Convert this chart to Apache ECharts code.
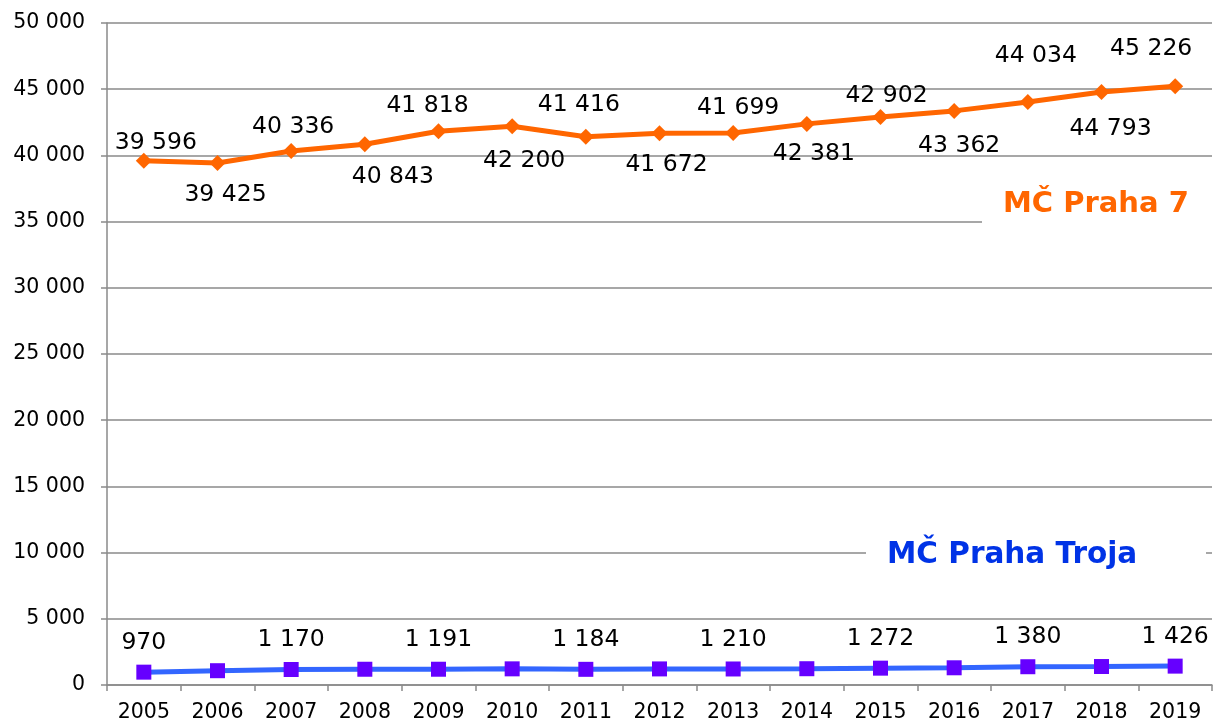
<!DOCTYPE html>
<html><head><meta charset="utf-8">
<script src="https://cdn.jsdelivr.net/npm/echarts@6/dist/echarts.min.js"></script>
<style>html,body{margin:0;padding:0;background:#fff}#c{width:1213px;height:724px}</style>
</head><body><div id="c"></div>
<script>
const years = ['2005','2006','2007','2008','2009','2010','2011','2012','2013','2014','2015','2016','2017','2018','2019'];
const praha7 = [39596,39425,40336,40843,41818,42200,41416,41672,41699,42381,42902,43362,44034,44793,45226];
const troja = [970,1080,1170,1190,1191,1220,1184,1215,1210,1230,1272,1300,1380,1395,1426];
const seriesNames = ['MČ Praha 7','MČ Praha Troja'];
// label placement (styling): offset of each Praha 7 label from its point, in px
const p7LabelOffsets = [[12,-18],[8,32],[2,-24],[28,33],[-11,-25],[12,35],[-7,-32],[7,32],[5,-25],[7,30],[6,-21],[5,35],[8,-46],[9,37],[-24,-37]];

const fmt = v => String(v).replace(/\B(?=(\d{3})+(?!\d))/g, ' ');
const FONT = 'DejaVu Sans';
const GRID = '#8a8a8a';

const p7data = praha7.map((v,i) => ({
  value: v,
  label: { position: 'inside', offset: p7LabelOffsets[i] }
}));
const trData = troja.map((v,i) => ({
  value: v,
  label: { show: i % 2 === 0 }
}));

const chart = echarts.init(document.getElementById('c'));
chart.setOption({
  animation: false,
  grid: { left: 107, right: 1, top: 23, bottom: 39 },
  xAxis: {
    type: 'category', data: years, boundaryGap: true,
    axisLine: { lineStyle: { color: GRID, width: 1.5 } },
    axisTick: { show: true, interval: 0, length: 6, lineStyle: { color: GRID, width: 1.5 } },
    axisLabel: { interval: 0, color: '#000', fontFamily: FONT, fontSize: 20.5, margin: 17 }
  },
  yAxis: {
    type: 'value', min: 0, max: 50000, interval: 5000,
    axisLine: { show: true, lineStyle: { color: GRID, width: 1.5 } },
    axisTick: { show: true, length: 6, lineStyle: { color: GRID, width: 1.5 } },
    splitLine: { lineStyle: { color: GRID, width: 1.5 } },
    axisLabel: { color: '#000', fontFamily: FONT, fontSize: 20.5, margin: 22, formatter: fmt }
  },
  series: [
    {
      name: seriesNames[0], type: 'line', data: p7data,
      symbol: 'diamond', symbolSize: 16,
      lineStyle: { color: '#FF6600', width: 5 },
      itemStyle: { color: '#FF6600' },
      label: { show: true, color: '#000', fontFamily: FONT, fontSize: 23.5, formatter: p => fmt(p.value) }
    },
    {
      name: seriesNames[1], type: 'line', data: trData,
      symbol: 'rect', symbolSize: 15,
      lineStyle: { color: '#3366FF', width: 5 },
      itemStyle: { color: '#6600FF' },
      label: { show: true, position: 'top', distance: 10, color: '#000', fontFamily: FONT, fontSize: 23.5, formatter: p => fmt(p.value) }
    }
  ],
  graphic: [
    { type: 'rect', shape: { x: 982, y: 186, width: 231, height: 42 }, style: { fill: '#fff' }, z: 50 },
    { type: 'text', x: 1003, y: 204, style: { text: seriesNames[0], fill: '#FF6600', font: 'bold 29px "DejaVu Sans"', textVerticalAlign: 'middle' }, z: 51 },
    { type: 'rect', shape: { x: 866, y: 534, width: 340, height: 40 }, style: { fill: '#fff' }, z: 50 },
    { type: 'text', x: 887, y: 555, style: { text: seriesNames[1], fill: '#0033E6', font: 'bold 29.5px "DejaVu Sans"', textVerticalAlign: 'middle' }, z: 51 }
  ]
});
</script></body></html>
